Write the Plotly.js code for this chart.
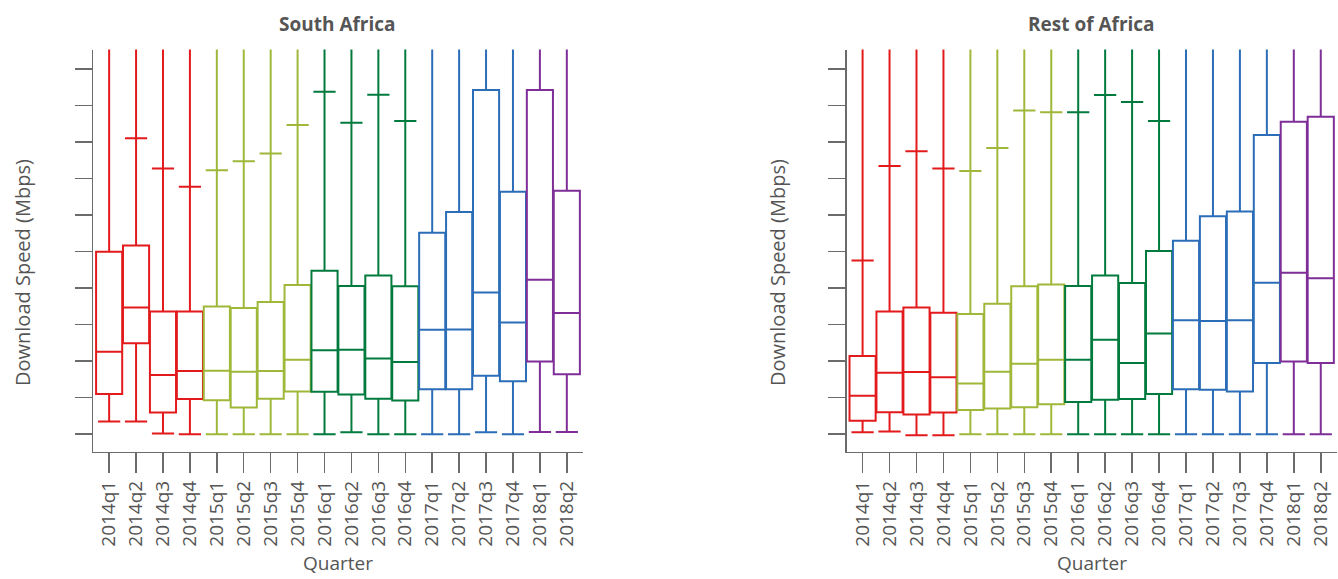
<!DOCTYPE html>
<html>
<head>
<meta charset="utf-8">
<script src="https://cdn.plot.ly/plotly-3.0.1.min.js"></script>
<style>html,body{margin:0;padding:0;background:#fff;}#chart{width:1338px;height:579px;}</style>
</head>
<body>
<div id="chart"></div>
<script>
const quarters = ["2014q1","2014q2","2014q3","2014q4","2015q1","2015q2","2015q3","2015q4",
  "2016q1","2016q2","2016q3","2016q4","2017q1","2017q2","2017q3","2017q4","2018q1","2018q2"];
const yearOf = ["2014","2014","2014","2014","2015","2015","2015","2015","2016","2016","2016","2016","2017","2017","2017","2017","2018","2018"];
const years = ["2014","2015","2016","2017","2018"];
const yearColors = ["#e31a1c","#9fb83a","#007a3d","#2c6db8","#7f2e98"];

// South Africa
const saLow = [0.35,0.35,0.02,0.0,0.0,0.0,0.0,0.0,0.0,0.05,0.0,0.0,0.0,0.0,0.05,0.0,0.06,0.06];
const saQ1  = [1.10,2.49,0.59,0.96,0.93,0.73,0.97,1.17,1.16,1.09,0.97,0.92,1.23,1.23,1.60,1.45,1.99,1.64];
const saMed = [2.26,3.47,1.62,1.73,1.74,1.71,1.73,2.04,2.30,2.31,2.07,1.98,2.86,2.87,3.88,3.06,4.23,3.32];
const saQ3  = [5.00,5.17,3.36,3.36,3.50,3.46,3.62,4.09,4.48,4.06,4.35,4.05,5.52,6.09,9.43,6.64,9.43,6.67];
const saCap = [11.5,8.11,7.28,6.78,7.23,7.48,7.69,8.47,9.38,8.53,9.30,8.58,11.5,11.5,11.5,11.5,11.5,11.5];
const saMax = [12,12,12,12,12,12,12,12,12,12,12,12,12,12,12,12,12,12];

// Rest of Africa
const raLow = [0.05,0.07,-0.03,-0.03,0.0,0.0,0.0,0.0,0.0,0.0,0.0,0.0,0.0,0.0,0.0,0.0,0.0,0.0];
const raQ1  = [0.37,0.60,0.54,0.59,0.66,0.70,0.74,0.82,0.88,0.94,0.96,1.10,1.23,1.22,1.17,1.95,1.99,1.95];
const raMed = [1.05,1.68,1.70,1.56,1.39,1.71,1.93,2.04,2.04,2.59,1.95,2.76,3.12,3.10,3.12,4.15,4.42,4.27];
const raQ3  = [2.14,3.36,3.47,3.33,3.29,3.57,4.05,4.10,4.06,4.35,4.14,5.02,5.30,5.97,6.10,8.20,8.56,8.70];
const raCap = [4.76,7.35,7.75,7.28,7.21,7.84,8.87,8.82,8.82,9.29,9.10,8.58,11.5,11.5,11.5,11.5,11.5,11.5];
const raMax = [12,12,12,12,12,12,12,12,12,12,12,12,12,12,12,12,12,12];

const yTicks = [0,1,2,3,4,5,6,7,8,9,10];

const titleColor = "#555555";
const axisColor = "#6b6b6b";
const FONT = "Open Sans, Noto Sans, sans-serif";

function panelTraces(low,q1,med,q3,cap,mx,xa,ya){
  const traces = [];
  years.forEach((yr,gi)=>{
    const idx = quarters.map((q,i)=>i).filter(i=>yearOf[i]===yr);
    const col = yearColors[gi];
    traces.push({
      type:"box", xaxis:xa, yaxis:ya,
      x: idx.map(i=>quarters[i]),
      q1: idx.map(i=>q1[i]), median: idx.map(i=>med[i]), q3: idx.map(i=>q3[i]),
      lowerfence: idx.map(i=>low[i]), upperfence: idx.map(i=>cap[i]),
      width: 0.97, whiskerwidth: 0.85,
      line:{color:col,width:2}, fillcolor:"rgba(0,0,0,0)",
      boxpoints:false, hoverinfo:"skip", showlegend:false
    });
    const xs=[], ys=[];
    idx.forEach(i=>{ xs.push(quarters[i],quarters[i],null); ys.push(cap[i],mx[i],null); });
    traces.push({
      type:"scatter", mode:"lines", xaxis:xa, yaxis:ya, x:xs, y:ys,
      line:{color:col,width:2}, hoverinfo:"skip", showlegend:false
    });
  });
  return traces;
}

const data = [].concat(
  panelTraces(saLow,saQ1,saMed,saQ3,saCap,saMax,"x","y"),
  panelTraces(raLow,raQ1,raMed,raQ3,raCap,raMax,"x2","y2")
);

const yRange = [-0.48,10.54];
const xRange = [-0.59,17.59];
function xAxis(dom, anchor){
  return {domain:dom, anchor:anchor, type:"category", categoryorder:"array", categoryarray:quarters,
    range:xRange, showgrid:false, zeroline:false, showline:true, linecolor:axisColor, linewidth:1.5,
    ticks:"outside", ticklen:20, tickwidth:1.5, tickcolor:axisColor, tickangle:-90,
    tickfont:{family:FONT,size:19,color:titleColor}, fixedrange:true};
}
function yAxis(anchor){
  return {domain:[0.2199,0.9145], anchor:anchor, range:yRange, tickvals:yTicks, showticklabels:false,
    showgrid:false, zeroline:false, showline:true, linecolor:axisColor, linewidth:1.5,
    ticks:"outside", ticklen:17, tickwidth:1.5, tickcolor:axisColor, fixedrange:true};
}

const layout = {
  width:1338, height:579, margin:{l:0,r:0,t:0,b:0},
  paper_bgcolor:"#fff", plot_bgcolor:"#fff", boxmode:"overlay", showlegend:false,
  xaxis: xAxis([0.0697,0.4355],"y"),
  yaxis: yAxis("x"),
  xaxis2: xAxis([0.6328,0.999],"y2"),
  yaxis2: yAxis("x2"),
  annotations:[
    {text:"<b>South Africa</b>", xref:"paper", yref:"paper", x:0.2526, y:1-24/579, xanchor:"center", yanchor:"middle", showarrow:false, font:{family:FONT,size:19,color:titleColor}},
    {text:"<b>Rest of Africa</b>", xref:"paper", yref:"paper", x:0.8159, y:1-24/579, xanchor:"center", yanchor:"middle", showarrow:false, font:{family:FONT,size:19,color:titleColor}},
    {text:"Quarter", xref:"paper", yref:"paper", x:0.2526, y:1/579, xanchor:"center", yanchor:"bottom", showarrow:false, font:{family:FONT,size:19,color:titleColor}},
    {text:"Quarter", xref:"paper", yref:"paper", x:0.8159, y:1/579, xanchor:"center", yanchor:"bottom", showarrow:false, font:{family:FONT,size:19,color:titleColor}},
    {text:"Download Speed (Mbps)", xref:"paper", yref:"paper", x:22/1338, y:1-273/579, xanchor:"center", yanchor:"middle", textangle:-90, showarrow:false, font:{family:FONT,size:20,color:titleColor}},
    {text:"Download Speed (Mbps)", xref:"paper", yref:"paper", x:777/1338, y:1-273/579, xanchor:"center", yanchor:"middle", textangle:-90, showarrow:false, font:{family:FONT,size:20,color:titleColor}}
  ]
};

Plotly.newPlot("chart", data, layout, {staticPlot:true, displayModeBar:false});
</script>
</body>
</html>
